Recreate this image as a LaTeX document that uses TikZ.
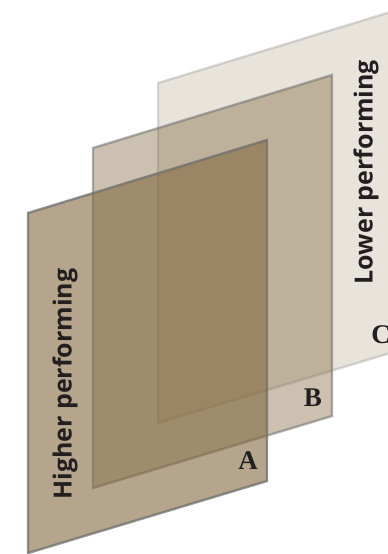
\documentclass[tikz,border=0pt]{standalone}
\usepackage{fontspec}
\newfontfamily\panelsans{Open Sans}
\newfontfamily\panelserif{Liberation Serif}
\definecolor{panelbrown}{RGB}{130,105,63}
\definecolor{paneledge}{RGB}{110,110,110}
\definecolor{inkdark}{RGB}{35,31,32}
\begin{document}
\begin{tikzpicture}[x=1pt,y=-1pt,
  panel/.style={fill=panelbrown,draw=paneledge,line width=2.4pt,line join=miter},
  sidelabel/.style={font=\panelsans\bfseries\fontsize{25}{30}\selectfont,text=inkdark,rotate=90,inner sep=0pt},
  tag/.style={font=\panelserif\bfseries\fontsize{27}{30}\selectfont,text=inkdark,inner sep=0pt}]
  \useasboundingbox (0,0) rectangle (388,554);
  \clip (0,0) rectangle (388,554);
  % back sheet (C)
  \draw[panel,fill opacity=0.18,draw opacity=0.25]
    (158,83) -- (397,10) -- (397,351) -- (158,423) -- cycle;
  % middle sheet (B)
  \draw[panel,fill opacity=0.41,draw opacity=0.55]
    (93,148) -- (332,75) -- (332,416) -- (93,488) -- cycle;
  % front sheet (A)
  \draw[panel,fill opacity=0.60,draw opacity=0.75]
    (28,213) -- (267,140) -- (267,481) -- (28,553) -- cycle;
  % labels
  \node[sidelabel] (higher) at (65,384) {Higher performing};
  \node[sidelabel] (lower) at (366,172) {Lower performing};
  \node[tag] (tagA) at (248,461) {A};
  \node[tag] (tagB) at (313,398) {B};
  \node[tag] (tagC) at (381,335) {C};
\end{tikzpicture}
\end{document}
